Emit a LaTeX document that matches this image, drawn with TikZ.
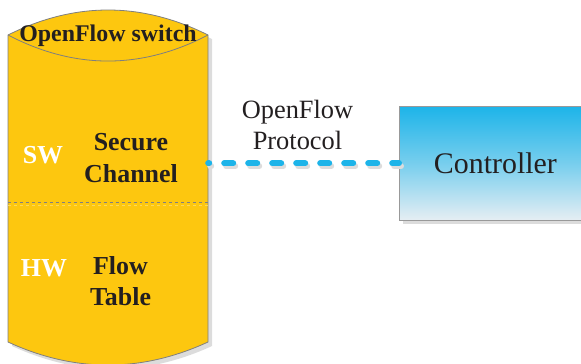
\documentclass[tikz,border=0pt]{standalone}
\usepackage{fontspec}
\setmainfont{Liberation Serif}
\definecolor{ylw}{HTML}{FDC70F}
\definecolor{cyanb}{HTML}{1DB4E9}
\definecolor{ctrlbot}{HTML}{E6EEF3}
\definecolor{edge}{HTML}{7F7F7F}
\definecolor{shd}{HTML}{DCDCDC}
\definecolor{txt}{HTML}{231F20}
\tikzset{
  lbl/.style={text=txt, inner sep=0pt, font=\bfseries\fontsize{26}{33}\selectfont, align=center},
  wlbl/.style={text=white, inner sep=0pt, font=\bfseries\fontsize{26}{30}\selectfont, anchor=base},
  link/.style={cyanb, line width=6bp, line cap=round, dash pattern=on 9bp off 15bp, dash phase=8bp},
  linkshadow/.style={shd, line width=6bp, line cap=round, dash pattern=on 9bp off 15bp, dash phase=8bp},
}
\begin{document}
\begin{tikzpicture}[x=1bp,y=1bp]
\useasboundingbox (0,0) rectangle (581,-363);
\clip (0,0) rectangle (581,-363);
% cylinder shadow
\fill[shd] (12,-39) -- (12,-346) .. controls (78.7,-376.7) and (145.3,-376.7) .. (212,-346) -- (212,-39) .. controls (145.3,-5.67) and (78.7,-5.67) .. cycle;
% cylinder body
\filldraw[fill=ylw, draw=edge, line width=0.8bp] (8,-35) -- (8,-342) .. controls (74.7,-372.7) and (141.3,-372.7) .. (208,-342) -- (208,-35) .. controls (141.3,-1.67) and (74.7,-1.67) .. cycle;
\draw[edge, line width=0.8bp] (8,-35) .. controls (74.7,-69.7) and (141.3,-69.7) .. (208,-35);
% divider
\draw[edge, dashed, line width=0.7bp] (8,-202) -- (208,-202);
\draw[ylw!70!white, dashed, line width=0.6bp] (8,-205) -- (208,-205);
\node[minimum width=200bp, minimum height=307bp, inner sep=0pt] (switch) at (108,-188.5) {};
% controller
\fill[shd] (403,-110) rectangle (600,-224);
\node[draw=edge!80, line width=0.8bp, top color=cyanb, bottom color=ctrlbot, middle color=cyanb!55!ctrlbot,
      minimum width=192bp, minimum height=114bp, anchor=north west, inner sep=0pt,
      font=\fontsize{30}{34}\selectfont, text=txt] (ctrl) at (399,-106) {Controller};
% connector
\draw[linkshadow, transform canvas={shift={(2bp,-3bp)}}] (ctrl.west -| switch.east) -- (ctrl.west);
\draw[link] (ctrl.west -| switch.east) -- (ctrl.west);
% labels
\node[text=txt, inner sep=0pt, font=\bfseries\fontsize{24}{26}\selectfont, anchor=base] (title) at (108,-41.7) {OpenFlow switch};
\node[lbl] (sc) at (131,-158) {Secure\\Channel};
\node[lbl, font=\bfseries\fontsize{26}{31}\selectfont] (ft) at (120.5,-281) {Flow\\Table};
\node[wlbl] (sw) at (43,-163) {SW};
\node[wlbl] (hw) at (44,-276) {HW};
\node[text=txt, inner sep=0pt, align=center, font=\fontsize{26.5}{31}\selectfont] (proto) at (297.5,-125.3) {OpenFlow\\Protocol};
\end{tikzpicture}
\end{document}
